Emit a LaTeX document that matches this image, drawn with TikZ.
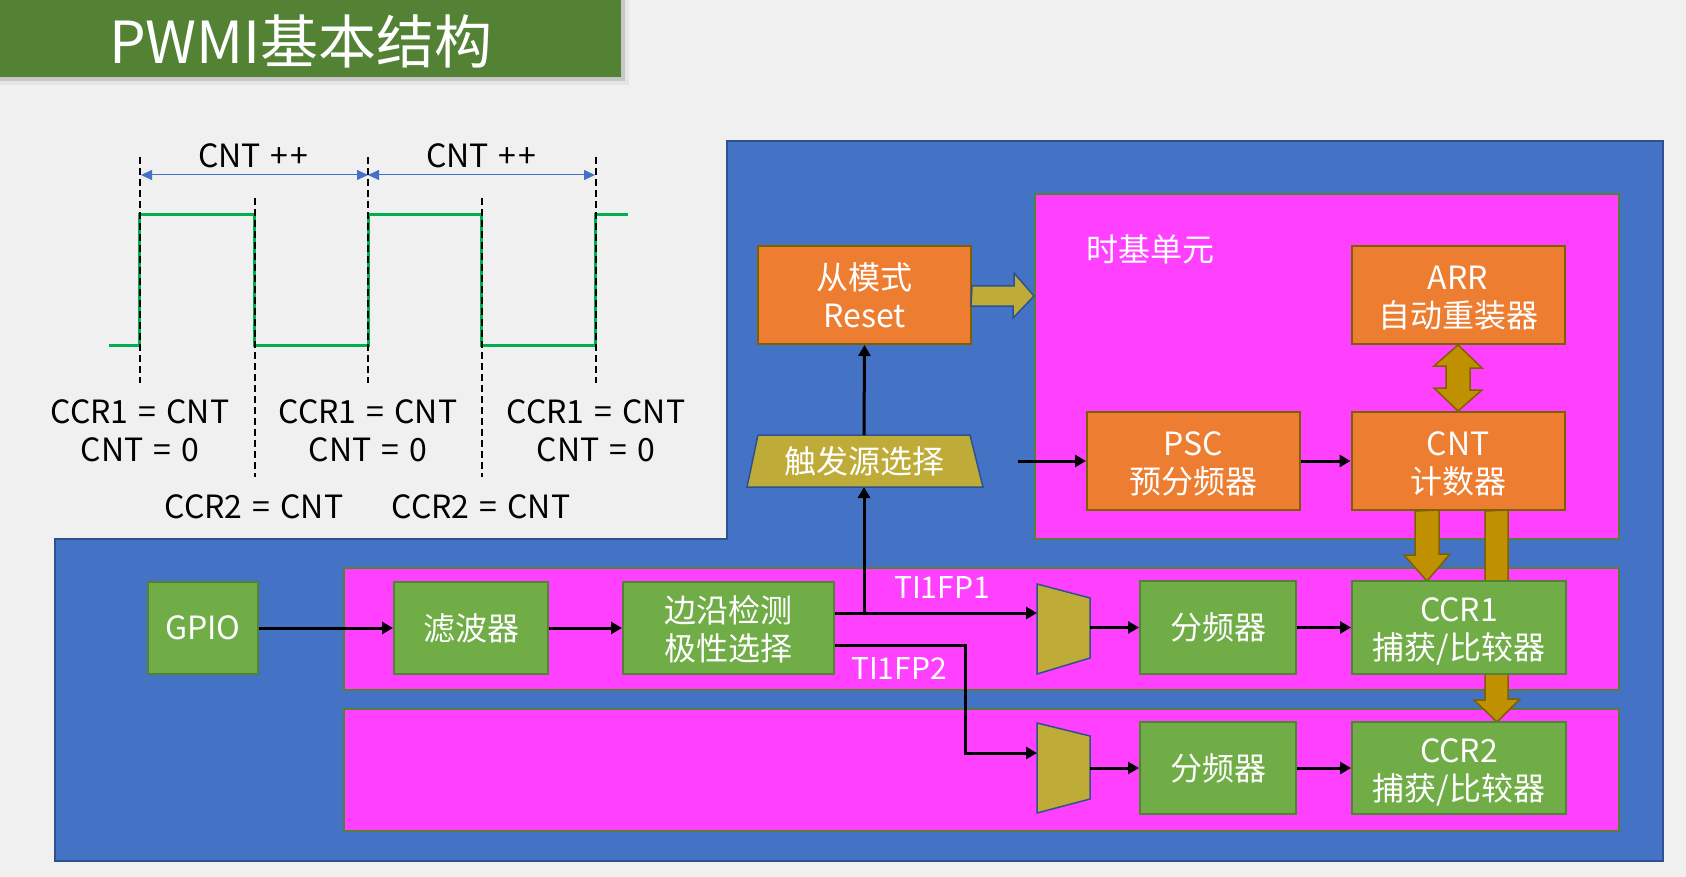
\documentclass[tikz,border=0pt]{standalone}
\usepackage{fontspec}
\setmainfont{Noto Sans CJK SC}
\usetikzlibrary{arrows.meta,calc}
\definecolor{bg}{HTML}{F0F0F0}
\definecolor{titlegreen}{HTML}{548235}
\definecolor{regblue}{HTML}{4472C4}
\definecolor{regblueb}{HTML}{2F528F}
\definecolor{mag}{HTML}{FF40FF}
\definecolor{magb}{HTML}{548235}
\definecolor{orng}{HTML}{ED7D31}
\definecolor{orngb}{HTML}{7F6000}
\definecolor{grn}{HTML}{70AD47}
\definecolor{grnb}{HTML}{548235}
\definecolor{gold}{HTML}{BF9000}
\definecolor{goldb}{HTML}{7F6000}
\definecolor{olv}{HTML}{BFAC38}
\definecolor{wave}{HTML}{00B050}
\newcommand\twol[2]{\rule{0pt}{36pt}#1\\#2\rule[-10pt]{0pt}{10pt}}
\newcommand\eqs{\hspace{10pt}=\hspace{10pt}}
\newcommand\cntpp{CNT\hspace{10pt}+\kern1.5pt+}
\tikzset{
  txt/.style={font=\fontsize{32}{38}\selectfont, align=center},
  box/.style={txt, draw, line width=2pt, inner sep=0pt, text=white},
  obox/.style={box, fill=orng, draw=orngb},
  gbox/.style={box, fill=grn, draw=grnb},
  region/.style={fill=mag, draw=magb, line width=2pt, inner sep=0pt},
  arr/.style={line width=3pt, -{Triangle[length=11pt,width=12pt]}},
  garrow/.style={fill=gold, draw=goldb, line width=1.5pt, line join=miter},
  oarrow/.style={fill=olv, draw=regblueb, line width=1.5pt},
  lbl/.style={txt, text=black},
  wlbl/.style={txt, text=white, font=\fontsize{30}{36}\selectfont},
  dashv/.style={black, line width=2.5pt, dash pattern=on 7pt off 4pt},
  dim/.style={regblue, line width=1pt, {Triangle[length=11pt,width=10pt]}-{Triangle[length=11pt,width=10pt]}},
  ghost/.style={inner sep=0pt, outer sep=0pt}
}
\begin{document}
\begin{tikzpicture}[x=1pt,y=-1pt]
\useasboundingbox (0,0) rectangle (1686,877);
\fill[bg] (0,0) rectangle (1686,877);

% title banner
\fill[black!10] (0,0) rectangle (629,85);
\fill[black!22] (0,0) rectangle (625,81);
\fill[titlegreen] (0,0) rectangle (621,77);
\node[text=white, font=\fontsize{58}{62}\selectfont] (title) at (301,41) {PWMI基本结构};

% waveform
\draw[wave, line width=3pt] (109,345) -- (139,345) -- (139,215) -- (254,215) -- (254,345)
  -- (368,345) -- (368,215) -- (481,215) -- (481,345) -- (595,345) -- (595,215) -- (628,215);
\foreach \x in {140,368,596} \draw[dashv] (\x,157) -- (\x,383);
\foreach \x in {255,482} \draw[dashv] (\x,198) -- (\x,477);
\draw[dim] (141,175) -- (368,175);
\draw[dim] (368,175) -- (595,175);
\node[lbl] (inc1) at (253,156) {\cntpp};
\node[lbl] (inc2) at (481,156) {\cntpp};
\node[lbl] (c1a) at (140,412) {CCR1\eqs CNT};
\node[lbl] (c1b) at (368,412) {CCR1\eqs CNT};
\node[lbl] (c1c) at (596,412) {CCR1\eqs CNT};
\node[lbl] (z1a) at (140,450) {CNT\eqs 0};
\node[lbl] (z1b) at (368,450) {CNT\eqs 0};
\node[lbl] (z1c) at (596,450) {CNT\eqs 0};
\node[lbl] (c2a) at (254,507) {CCR2\eqs CNT};
\node[lbl] (c2b) at (481,507) {CCR2\eqs CNT};

% blue region
\filldraw[fill=regblue, draw=regblueb, line width=2pt] (727,141) -- (1663,141) -- (1663,861)
  -- (55,861) -- (55,539) -- (727,539) -- cycle;

% magenta regions
\node[region, minimum width=584pt, minimum height=345pt, anchor=north west] (tb) at (1034,193) {};
\node[region, minimum width=1275pt, minimum height=122pt, anchor=north west] (ch1) at (343,567) {};
\node[region, minimum width=1275pt, minimum height=122pt, anchor=north west] (ch2) at (343,708) {};
\node[txt, text=white] (tbl) at (1150,249) {时基单元};

% boxes
\node[obox, minimum width=213pt, minimum height=98pt] (reset) at (864.5,295) {\twol{从模式}{Reset}};
\node[obox, minimum width=213pt, minimum height=98pt] (arrb) at (1458,295) {\twol{ARR}{自动重装器}};
\node[obox, minimum width=213pt, minimum height=98pt] (psc) at (1193.5,461) {\twol{PSC}{预分频器}};
\node[obox, minimum width=213pt, minimum height=98pt] (cnt) at (1458,461) {\twol{CNT}{计数器}};

% gold arrows
\filldraw[garrow] (arrb.south) -- ++(24,23) -- ++(-12,0) -- ++(0,22) -- ++(12,0) -- (cnt.north)
  -- ++(-24,-23) -- ++(12,0) -- ++(0,-22) -- ++(-12,0) -- cycle;

\node[gbox, minimum width=110pt, minimum height=92pt] (gpio) at (203,628) {GPIO};
\node[gbox, minimum width=154pt, minimum height=92pt] (filt) at (471,628) {滤波器};
\node[gbox, minimum width=211pt, minimum height=92pt] (edge) at (728.5,628) {\twol{边沿检测}{极性选择}};
\node[gbox, minimum width=156pt, minimum height=93pt] (div1) at (1218,627.5) {分频器};
\node[gbox, minimum width=156pt, minimum height=92pt] (div2) at (1218,768) {分频器};

% arrow CNT -> CCR2 (behind CCR1)
\node[ghost, minimum width=214pt, minimum height=92pt] (ccr2pos) at (1459,768) {};
\node[ghost, minimum width=214pt, minimum height=93pt] (ccr1pos) at (1459,627.5) {};
\filldraw[garrow] ([xshift=27pt]cnt.south) -- ++(0,189) -- ++(-11,0) -- ([xshift=38pt]ccr2pos.north)
  -- ++(23,-23) -- ++(-12,0) -- ++(0,-189) -- cycle;
\filldraw[garrow] ([xshift=-43pt]cnt.south) -- ++(0,44) -- ++(-11,0) -- ([xshift=-32pt]ccr1pos.north)
  -- ++(23,-27) -- ++(-11,0) -- ++(0,-44) -- cycle;

\node[gbox, minimum width=214pt, minimum height=93pt] (ccr1) at (1459,627.5) {\twol{CCR1}{捕获/比较器}};
\node[gbox, minimum width=214pt, minimum height=92pt] (ccr2) at (1459,768) {\twol{CCR2}{捕获/比较器}};

% trigger selector trapezoid
\node[ghost, minimum width=212pt, minimum height=52pt] (trig) at (864,461) {};
\filldraw[oarrow] (trig.north west) -- (trig.north east) -- ([xshift=13pt]trig.south east)
  -- ([xshift=-11pt]trig.south west) -- cycle;
\node[txt, text=white] (trigtxt) at (trig) {触发源选择};

% block arrow reset -> time base
\filldraw[oarrow] ([yshift=-1pt]reset.east) ++(0,-10) -- ++(42,0) -- ++(0,-13) -- (tb.west |- 0,296)
  -- ++(-21,22) -- ++(0,-12) -- ++(-42,0) -- cycle;

% muxes
\node[ghost, minimum width=53pt, minimum height=90pt] (mux1) at (1063.5,629) {};
\filldraw[oarrow] (mux1.north west) -- ([yshift=-14pt]mux1.north east) -- ([yshift=16pt]mux1.south east)
  -- (mux1.south west) -- cycle;
\node[ghost, minimum width=53pt, minimum height=90pt] (mux2) at (1063.5,768) {};
\filldraw[oarrow] (mux2.north west) -- ([yshift=-13pt]mux2.north east) -- ([yshift=14pt]mux2.south east)
  -- (mux2.south west) -- cycle;

% signal connectors
\draw[arr] (gpio.east) -- (filt.west);
\draw[arr] (filt.east) -- (edge.west);
\draw[arr] ([yshift=15pt]edge.east) -- ([yshift=15pt]edge.east -| mux1.west);
\draw[arr] ([yshift=-17pt]edge.east) -| ($([yshift=15pt]mux2.west)+(-72,0)$) -- ([yshift=15pt]mux2.west);
\draw[arr] ([yshift=15pt]edge.east -| trig.south) -- (trig.south);
\draw[arr] (trig.north) -- (reset.south);
\draw[arr] (mux1.east |- div1.west) -- (div1.west);
\draw[arr] (mux2.east) -- (div2.west);
\draw[arr] (div1.east) -- (ccr1.west);
\draw[arr] (div2.east) -- (ccr2.west);
\coordinate (pscin) at (1018,461);
\draw[arr] (pscin) -- (psc.west);
\draw[arr] (psc.east) -- (cnt.west);

\node[wlbl] (fp1) at (942,588) {TI1FP1};
\node[wlbl] (fp2) at (899,669) {TI1FP2};
\end{tikzpicture}
\end{document}
